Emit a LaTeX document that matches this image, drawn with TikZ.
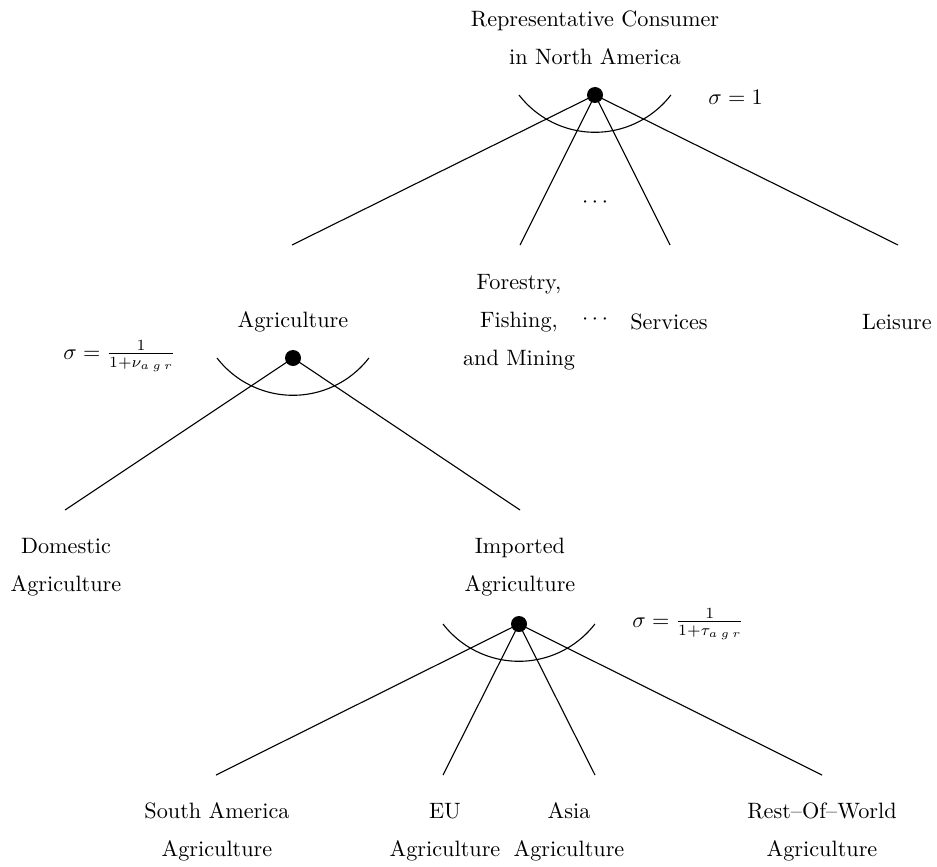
\documentclass[tikz,border=0pt]{standalone}
\begin{document}
\begin{tikzpicture}[x=0.45pt,y=-0.45pt,
  dot/.style={circle,fill=black,inner sep=0pt,minimum size=7.2pt},
  lbl/.style={align=center,inner sep=0pt,execute at begin node={\setlength{\baselineskip}{17pt}}},
  conn/.style={line width=0.5pt},
  sarc/.style={line width=0.5pt}]
\useasboundingbox (0,0) rectangle (937,866);

% ---- top level ----
\node[lbl] (rc) at (595,38) {Representative Consumer\\in North America};
\node[dot] (d1) at (595,95) {};
\node[anchor=west,inner sep=0pt] (s1) at (708,97) {$\sigma = 1$};
\draw[sarc] ([shift={(-76,0)}]d1.center) arc[start angle=142.3,end angle=37.7,radius=96];
\coordinate (e1) at (292,245);
\coordinate (e2) at (520,245);
\coordinate (e3) at (670,245);
\coordinate (e4) at (898,245);
\foreach \e in {e1,e2,e3,e4} \draw[conn] (d1.center) -- (\e);
\node[inner sep=0pt] (dt1) at (595,203) {$\cdots$};

\node[lbl] (agr) at (293,322) {Agriculture};
\node[lbl] (ffm) at (519,322) {Forestry,\\Fishing,\\and Mining};
\node[inner sep=0pt] (dt2) at (595,320) {$\cdots$};
\node[lbl] (srv) at (669,322) {Services};
\node[lbl] (lei) at (897,322) {Leisure};

% ---- agriculture ----
\node[dot] (d2) at (293,358) {};
\node[anchor=west,inner sep=0pt] (s2) at (63,356) {$\sigma = \frac{1}{1+\nu_{a\kern1.5pt g\kern1.5pt r}}$};
\draw[sarc] ([shift={(-76,0)}]d2.center) arc[start angle=142.3,end angle=37.7,radius=96];
\coordinate (f1) at (65,510);
\coordinate (f2) at (520,510);
\draw[conn] (d2.center) -- (f1);
\draw[conn] (d2.center) -- (f2);

\node[lbl] (dom) at (66,567) {Domestic\\Agriculture};
\node[lbl] (imp) at (520,567) {Imported\\Agriculture};

% ---- imported ----
\node[dot] (d3) at (519,624) {};
\node[anchor=west,inner sep=0pt] (s3) at (632,624) {$\sigma = \frac{1}{1+\tau_{a\kern1.5pt g\kern1.5pt r}}$};
\draw[sarc] ([shift={(-76,0)}]d3.center) arc[start angle=142.3,end angle=37.7,radius=96];
\coordinate (g1) at (216,775);
\coordinate (g2) at (443,775);
\coordinate (g3) at (595,775);
\coordinate (g4) at (822,775);
\foreach \e in {g1,g2,g3,g4} \draw[conn] (d3.center) -- (\e);

\node[lbl] (sa) at (217,832) {South America\\Agriculture};
\node[lbl] (eu) at (445,832) {EU\\Agriculture};
\node[lbl] (as) at (569,832) {Asia\\Agriculture};
\node[lbl] (row) at (822,832) {Rest--Of--World\\Agriculture};
\end{tikzpicture}
\end{document}
